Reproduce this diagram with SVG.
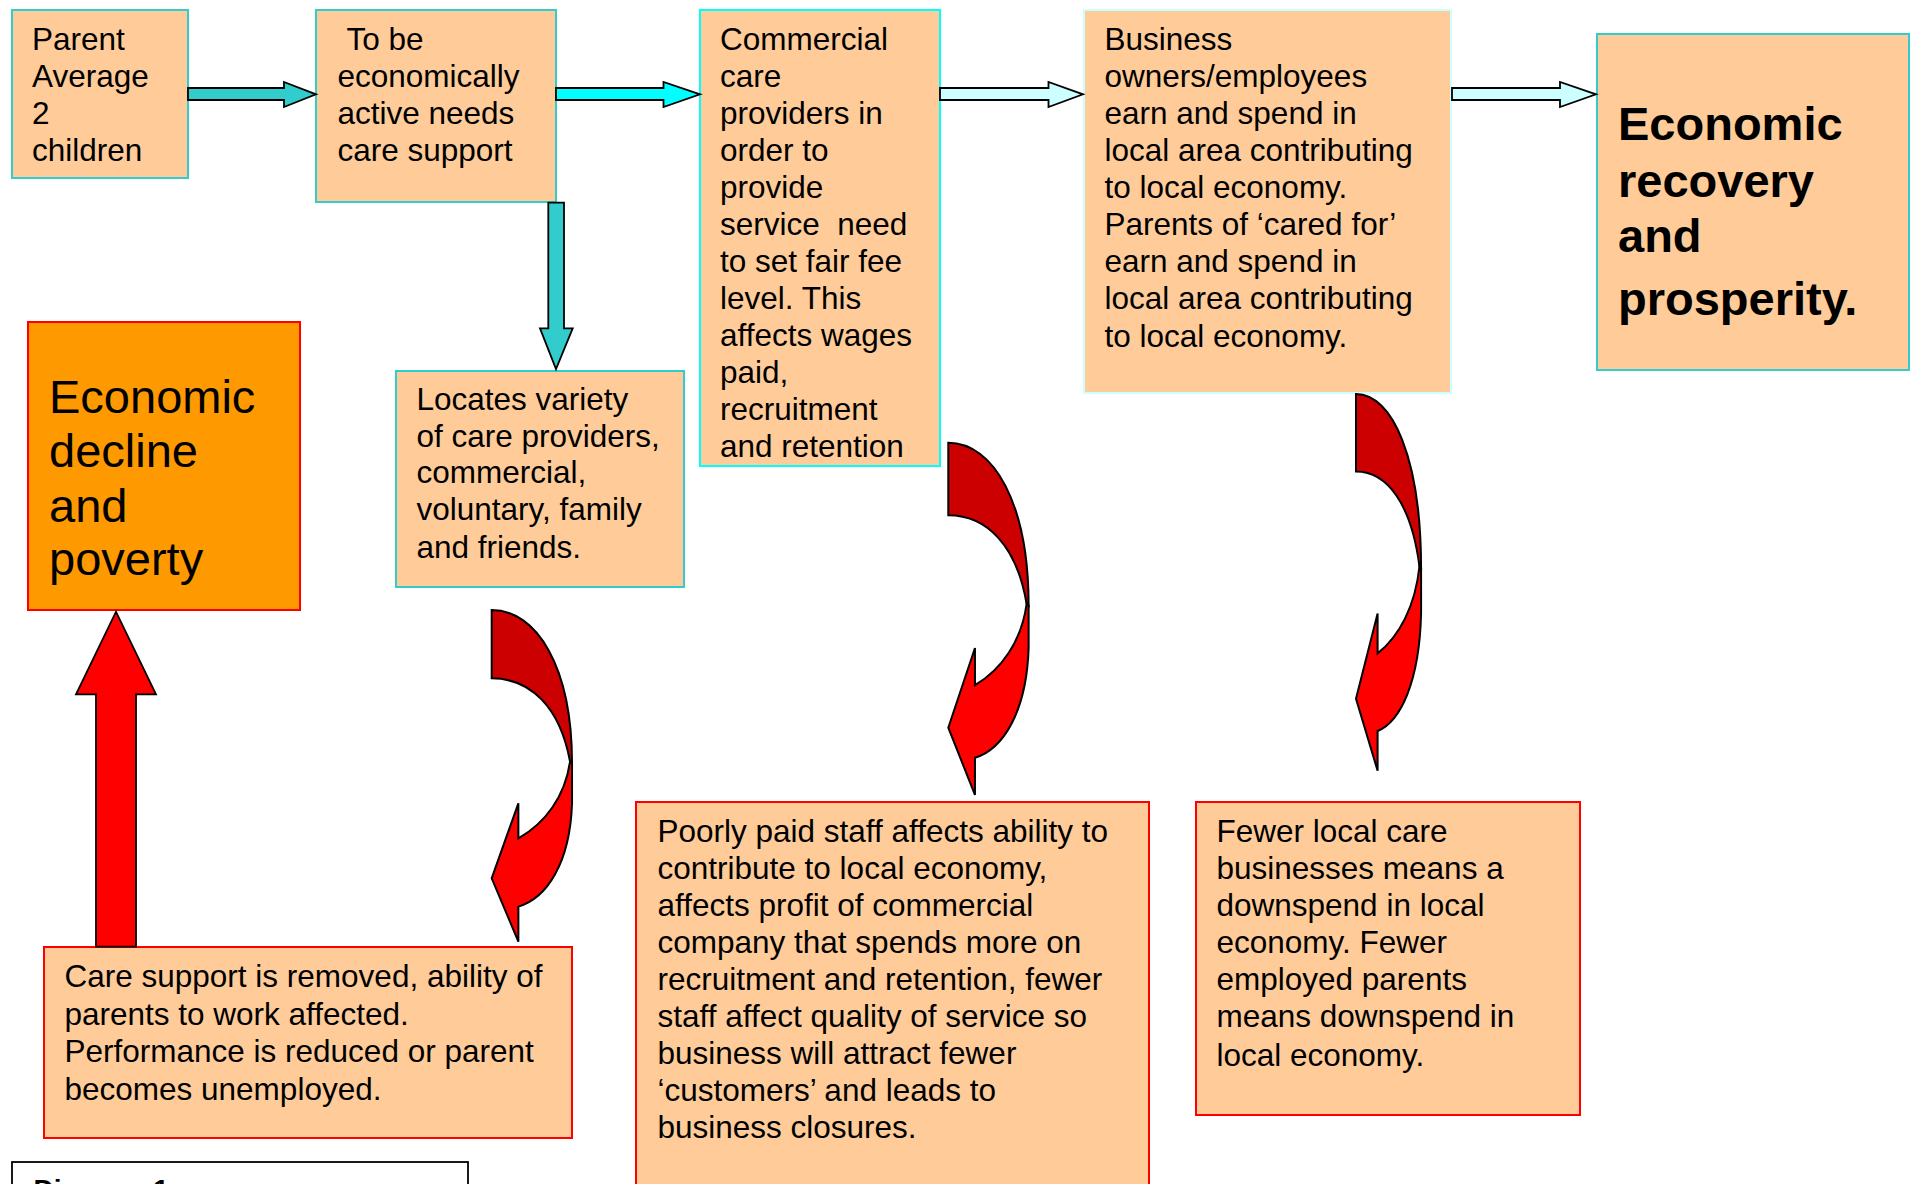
<svg xmlns="http://www.w3.org/2000/svg" width="1917" height="1184" viewBox="0 0 1917 1184">
<defs>
<style>
.box{fill:#ffcc99;stroke-width:2}
.teal{stroke:#33cccc}
.cyan{stroke:#00ffff}
.pale{stroke:#ccffff}
.red{stroke:#ff0000}
.t{font-family:"Liberation Sans",Arial,sans-serif;font-size:31.5px;fill:#000}
.big{font-family:"Liberation Sans",Arial,sans-serif;font-size:47px;fill:#000}
.bold{font-weight:bold}
.arr{stroke:#000;stroke-width:1.8;stroke-linejoin:miter}
.cdark{fill:#cc0000;stroke:#000;stroke-width:2}
.clight{fill:#ff0000;stroke:#000;stroke-width:2}
</style>
<g id="curved">
<path class="cdark" vector-effect="non-scaling-stroke" d="M0,0 C135,0 241,170 241,460 L235,455 C205,290 115,205 0,205 Z"/>
<path class="clight" vector-effect="non-scaling-stroke" d="M235,455 L241,460 L241,580 C235,760 165,865 80,890 L80,995 L0,805 L80,580 L80,685 C160,640 220,560 235,455 Z"/>
</g>
</defs>
<rect width="1917" height="1184" fill="#ffffff"/>

<g id="n-parent">
<rect class="box teal" x="12" y="10" width="176" height="168"/>
<text class="t"><tspan x="32" y="50">Parent</tspan><tspan x="32" y="87">Average</tspan><tspan x="32" y="124">2</tspan><tspan x="32" y="161">children</tspan></text>
</g>
<g id="n-active">
<rect class="box teal" x="316" y="10" width="240" height="192"/>
<text class="t"><tspan x="346.5" y="50">To be</tspan><tspan x="337.5" y="87">economically</tspan><tspan x="337.5" y="124">active needs</tspan><tspan x="337.5" y="161">care support</tspan></text>
</g>
<g id="n-commercial">
<rect class="box cyan" x="700" y="10" width="240" height="456"/>
<text class="t" style="white-space:pre"><tspan x="720" y="50">Commercial</tspan><tspan x="720" y="87">care</tspan><tspan x="720" y="124">providers in</tspan><tspan x="720" y="161">order to</tspan><tspan x="720" y="198">provide</tspan><tspan x="720" y="235">service  need</tspan><tspan x="720" y="272">to set fair fee</tspan><tspan x="720" y="309">level. This</tspan><tspan x="720" y="346">affects wages</tspan><tspan x="720" y="383">paid,</tspan><tspan x="720" y="420">recruitment</tspan><tspan x="720" y="457">and retention</tspan></text>
</g>
<g id="n-business">
<rect class="box pale" x="1084" y="10" width="367" height="383"/>
<text class="t"><tspan x="1104.5" y="50">Business</tspan><tspan x="1104.5" y="87">owners/employees</tspan><tspan x="1104.5" y="124">earn and spend in</tspan><tspan x="1104.5" y="161">local area contributing</tspan><tspan x="1104.5" y="198">to local economy.</tspan><tspan x="1104.5" y="235">Parents of ‘cared for’</tspan><tspan x="1104.5" y="272">earn and spend in</tspan><tspan x="1104.5" y="309">local area contributing</tspan><tspan x="1104.5" y="347">to local economy.</tspan></text>
</g>
<g id="n-recovery">
<rect class="box teal" x="1597" y="34" width="312" height="336"/>
<text class="big bold"><tspan x="1618" y="140">Economic</tspan><tspan x="1618" y="197">recovery</tspan><tspan x="1618" y="252">and</tspan><tspan x="1618" y="315">prosperity.</tspan></text>
</g>
<g id="n-decline">
<rect x="28" y="322" width="272" height="288" fill="#ff9900" stroke="#ff0000" stroke-width="2"/>
<text class="big"><tspan x="49" y="413">Economic</tspan><tspan x="49" y="467">decline</tspan><tspan x="49" y="522">and</tspan><tspan x="49" y="575">poverty</tspan></text>
</g>
<g id="n-locates">
<rect class="box teal" x="396" y="371" width="288" height="216"/>
<text class="t"><tspan x="416.5" y="410">Locates variety</tspan><tspan x="416.5" y="447">of care providers,</tspan><tspan x="416.5" y="483">commercial,</tspan><tspan x="416.5" y="520">voluntary, family</tspan><tspan x="416.5" y="558">and friends.</tspan></text>
</g>
<g id="n-care">
<rect class="box red" x="44" y="947" width="528" height="191"/>
<text class="t"><tspan x="64.5" y="987">Care support is removed, ability of</tspan><tspan x="64.5" y="1025">parents to work affected.</tspan><tspan x="64.5" y="1062">Performance is reduced or parent</tspan><tspan x="64.5" y="1100">becomes unemployed.</tspan></text>
</g>
<g id="n-poorly">
<rect class="box red" x="636" y="802" width="513" height="400"/>
<text class="t"><tspan x="657.5" y="842">Poorly paid staff affects ability to</tspan><tspan x="657.5" y="879">contribute to local economy,</tspan><tspan x="657.5" y="916">affects profit of commercial</tspan><tspan x="657.5" y="953">company that spends more on</tspan><tspan x="657.5" y="990">recruitment and retention, fewer</tspan><tspan x="657.5" y="1027">staff affect quality of service so</tspan><tspan x="657.5" y="1064">business will attract fewer</tspan><tspan x="657.5" y="1101">‘customers’ and leads to</tspan><tspan x="657.5" y="1138">business closures.</tspan></text>
</g>
<g id="n-fewer">
<rect class="box red" x="1196" y="802" width="384" height="313"/>
<text class="t"><tspan x="1216.5" y="842">Fewer local care</tspan><tspan x="1216.5" y="879">businesses means a</tspan><tspan x="1216.5" y="916">downspend in local</tspan><tspan x="1216.5" y="953">economy. Fewer</tspan><tspan x="1216.5" y="990">employed parents</tspan><tspan x="1216.5" y="1027">means downspend in</tspan><tspan x="1216.5" y="1066">local economy.</tspan></text>
</g>
<g id="n-diagram">
<rect x="12" y="1162" width="456" height="60" fill="#ffffff" stroke="#000" stroke-width="1.8"/>
<text class="t bold" style="font-size:28px" x="33.5" y="1198.5">Diagram 1</text>
</g>

<g id="connectors">
<path class="arr" fill="#33cccc" d="M188,88 L284,88 L284,82 L316,94.3 L284,107 L284,100 L188,100 Z"/>
<path class="arr" fill="#00ffff" d="M556,88 L663.5,88 L663.5,82 L700,94.3 L663.5,107 L663.5,100 L556,100 Z"/>
<path class="arr" fill="#ccffff" d="M940,88 L1048.5,88 L1048.5,82 L1083,94.3 L1048.5,107 L1048.5,100 L940,100 Z"/>
<path class="arr" fill="#ccffff" d="M1452,88 L1560,88 L1560,82 L1596,94.3 L1560,107 L1560,100 L1452,100 Z"/>
<path class="arr" fill="#33cccc" d="M548.3,202.7 L564,202.7 L564,328.3 L572.7,328.3 L556,369 L540,328.3 L548.3,328.3 Z"/>
<path class="arr" fill="#ff0000" d="M96,946.7 L96,694.3 L76,694.3 L116,611.7 L156,694.3 L136,694.3 L136,946.7 Z"/>
<use href="#curved" transform="translate(491.7,610) scale(0.3333,0.3333)"/>
<use href="#curved" transform="translate(948.3,442.7) scale(0.3333,0.354)"/>
<use href="#curved" transform="translate(1356,394) scale(0.27,0.3786)"/>
</g>
</svg>
